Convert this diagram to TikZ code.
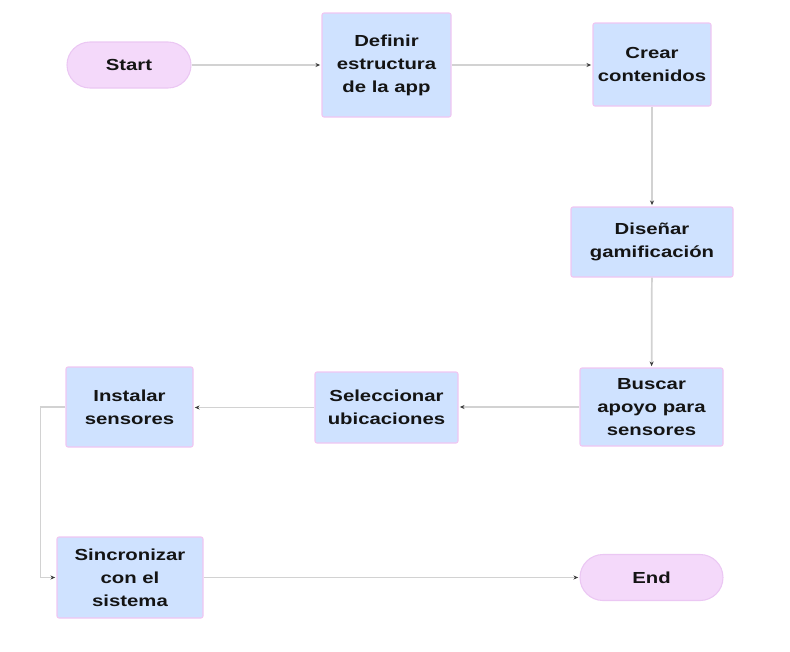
\documentclass[tikz,border=0pt]{standalone}
\usepackage{fontspec}
\newfontfamily\nodefont[FakeStretch=1.27]{Liberation Sans}
\usetikzlibrary{arrows.meta}
\definecolor{boxfill}{HTML}{CFE2FF}
\definecolor{boxline}{HTML}{F0C6F2}
\definecolor{pillfill}{HTML}{F4D9FA}
\definecolor{pillline}{HTML}{EBC7F3}
\definecolor{conn}{HTML}{D2D2D2}
\definecolor{tipc}{HTML}{3A3A3A}
\tikzset{
  base/.style={align=center, inner sep=0pt, text=black!92,
    font=\nodefont\bfseries\fontsize{12}{17.25}\selectfont},
  proc/.style={base, draw=boxline, fill=boxfill, line width=0.8pt, rounded corners=1.5pt},
  pill/.style={base, draw=pillline, fill=pillfill, line width=0.8pt, rounded corners=17.2pt,
    minimum height=34.5pt},
  link/.style={draw=conn, line width=1.3pt, shorten >=1pt,
    -{Stealth[length=3.5pt,width=3pt,color=tipc]}}
}
\begin{document}
\begin{tikzpicture}[x=0.75pt,y=-0.75pt]
\useasboundingbox (0,0) rectangle (790,651);
\node[pill, minimum width=93pt] (start) at (129,65) {Start};
\node[proc, minimum width=96.75pt, minimum height=78pt] (def) at (386.5,65) {Definir\\estructura\\de la app};
\node[proc, minimum width=88.5pt, minimum height=62.25pt] (crear) at (652,64.5) {Crear\\contenidos};
\node[proc, minimum width=121.5pt, minimum height=52.5pt] (dis) at (652,242) {Diseñar\\gamificación};
\node[proc, minimum width=107.25pt, minimum height=58.5pt] (bus) at (651.5,407) {Buscar\\apoyo para\\sensores};
\node[proc, minimum width=107.25pt, minimum height=53.25pt] (sel) at (386.5,407.5) {Seleccionar\\ubicaciones};
\node[proc, minimum width=95.25pt, minimum height=60pt] (ins) at (129.5,407) {Instalar\\sensores};
\node[proc, minimum width=109.5pt, minimum height=60.75pt] (sin) at (130,577.5) {Sincronizar\\con el\\sistema};
\node[pill, minimum width=107.25pt] (end) at (651.5,577.5) {End};
\draw[link] (start) -- (def);
\draw[link] (def) -- (crear.west |- def);
\draw[link] (crear) -- (dis);
\draw[link] (dis) -- (bus);
\draw[link] (bus) -- (sel.east |- bus);
\draw[link] (sel) -- (ins.east |- sel);
\draw[link] (ins.west) -- ++(-25,0) |- (sin.west);
\draw[link] (sin.east |- end) -- (end);
\end{tikzpicture}
\end{document}
